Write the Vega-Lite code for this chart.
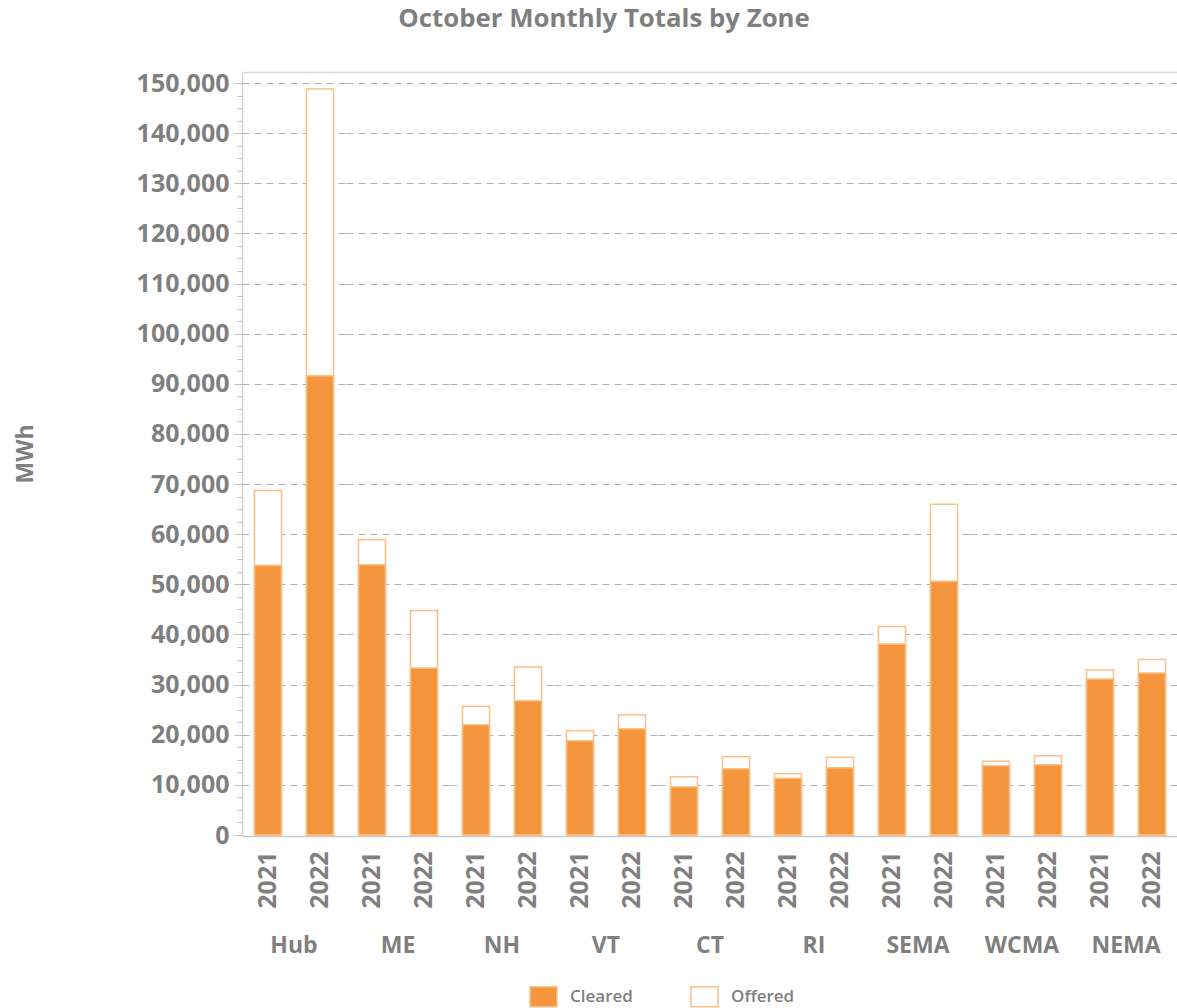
{
  "$schema": "https://vega.github.io/schema/vega-lite/v6.json",
  "background": "white",
  "padding": {"left": 14, "top": 6, "right": 0, "bottom": 0},
  "title": {"text": "October Monthly Totals by Zone", "font": "Open Sans", "fontSize": 25.8, "fontWeight": "bold", "color": "#7F7F7F", "anchor": "middle", "frame": "bounds", "offset": 38, "dx": 8},
  "data": {"values": [
    {"zone": "Hub", "year": "2021", "Cleared": 53800, "Offered": 68700},
    {"zone": "Hub", "year": "2022", "Cleared": 91600, "Offered": 148800},
    {"zone": "ME", "year": "2021", "Cleared": 53900, "Offered": 58900},
    {"zone": "ME", "year": "2022", "Cleared": 33300, "Offered": 44800},
    {"zone": "NH", "year": "2021", "Cleared": 22000, "Offered": 25700},
    {"zone": "NH", "year": "2022", "Cleared": 26800, "Offered": 33500},
    {"zone": "VT", "year": "2021", "Cleared": 18800, "Offered": 20800},
    {"zone": "VT", "year": "2022", "Cleared": 21200, "Offered": 24000},
    {"zone": "CT", "year": "2021", "Cleared": 9600, "Offered": 11600},
    {"zone": "CT", "year": "2022", "Cleared": 13200, "Offered": 15600},
    {"zone": "RI", "year": "2021", "Cleared": 11300, "Offered": 12200},
    {"zone": "RI", "year": "2022", "Cleared": 13400, "Offered": 15500},
    {"zone": "SEMA", "year": "2021", "Cleared": 38100, "Offered": 41600},
    {"zone": "SEMA", "year": "2022", "Cleared": 50600, "Offered": 66000},
    {"zone": "WCMA", "year": "2021", "Cleared": 13800, "Offered": 14700},
    {"zone": "WCMA", "year": "2022", "Cleared": 14000, "Offered": 15800},
    {"zone": "NEMA", "year": "2021", "Cleared": 31100, "Offered": 32900},
    {"zone": "NEMA", "year": "2022", "Cleared": 32300, "Offered": 35000}
  ]},
  "transform": [{"fold": ["Offered", "Cleared"], "as": ["series", "value"]}],
  "facet": {
    "column": {
      "field": "zone", "type": "nominal",
      "sort": ["Hub", "ME", "NH", "VT", "CT", "RI", "SEMA", "WCMA", "NEMA"],
      "header": {"title": null, "labelOrient": "bottom", "labelFont": "Open Sans", "labelFontSize": 23, "labelFontWeight": "bold", "labelColor": "#7F7F7F", "labelPadding": 27}
    }
  },
  "spacing": 0,
  "spec": {
    "width": 104,
    "height": 763,
    "resolve": {"axis": {"x": "independent"}},
    "layer": [
      {
        "mark": {"type": "bar", "stroke": "#F9C089", "strokeWidth": 1.5},
        "encoding": {
          "x": {"field": "year", "type": "nominal", "scale": {"paddingInner": 0.48, "paddingOuter": 0.24},
            "axis": {"title": null, "orient": "bottom", "labelAngle": -90, "labelFont": "Open Sans", "labelFontSize": 25, "labelFontWeight": "bold", "labelColor": "#7F7F7F", "labelPadding": 15, "ticks": false, "domainColor": "#C8C8C8", "domainWidth": 1.5, "grid": false}},
          "y": {"field": "value", "type": "quantitative", "stack": null, "scale": {"domain": [0, 152200], "nice": false},
            "axis": {
              "title": "MWh", "titleFont": "Open Sans", "titleFontSize": 23, "titleFontWeight": "bold", "titleColor": "#7F7F7F", "titlePadding": 99,
              "values": [0, 2500, 5000, 7500, 10000, 12500, 15000, 17500, 20000, 22500, 25000, 27500, 30000, 32500, 35000, 37500, 40000, 42500, 45000, 47500, 50000, 52500, 55000, 57500, 60000, 62500, 65000, 67500, 70000, 72500, 75000, 77500, 80000, 82500, 85000, 87500, 90000, 92500, 95000, 97500, 100000, 102500, 105000, 107500, 110000, 112500, 115000, 117500, 120000, 122500, 125000, 127500, 130000, 132500, 135000, 137500, 140000, 142500, 145000, 147500, 150000],
              "labelExpr": "datum.value % 10000 === 0 ? format(datum.value, ',') : ''",
              "labelOverlap": false,
              "labelFont": "Open Sans", "labelFontSize": 25, "labelFontWeight": "bold", "labelColor": "#7F7F7F", "labelPadding": 5,
              "tickSize": {"condition": {"test": "datum.value % 10000 === 0", "value": 8}, "value": 5},
              "tickColor": "#BFBFBF",
              "domainColor": "#D0D0D0", "domainWidth": 1.5,
              "gridColor": "#B0B0B0", "gridDash": [7, 5],
              "gridOpacity": {"condition": {"test": "datum.value % 10000 === 0 && datum.value > 0", "value": 1}, "value": 0}
            }},
          "fill": {"field": "series", "type": "nominal",
            "scale": {"domain": ["Cleared", "Offered"], "range": ["#F5963F", "#FFFFFF"]},
            "legend": {"title": null, "orient": "none", "legendX": 287, "legendY": 910, "direction": "horizontal", "symbolType": "M-1,-0.74L1,-0.74L1,0.74L-1,0.74Z", "symbolSize": 729, "symbolStrokeColor": "#F9C089", "symbolStrokeWidth": 1.5, "labelFont": "Open Sans", "labelFontSize": 17, "labelFontWeight": 600, "labelColor": "#7F7F7F", "columnPadding": 55, "labelOffset": 12}},
          "order": {"field": "series", "sort": "descending"}
        }
      },
      {
        "mark": {"type": "bar", "opacity": 0},
        "encoding": {
          "x": {"field": "year", "type": "nominal",
            "axis": {"title": null, "orient": "top", "labels": false, "ticks": false, "grid": false, "domainColor": "#D9D9D9", "domainWidth": 1.5}}
        }
      }
    ]
  },
  "config": {"view": {"stroke": null}}
}
